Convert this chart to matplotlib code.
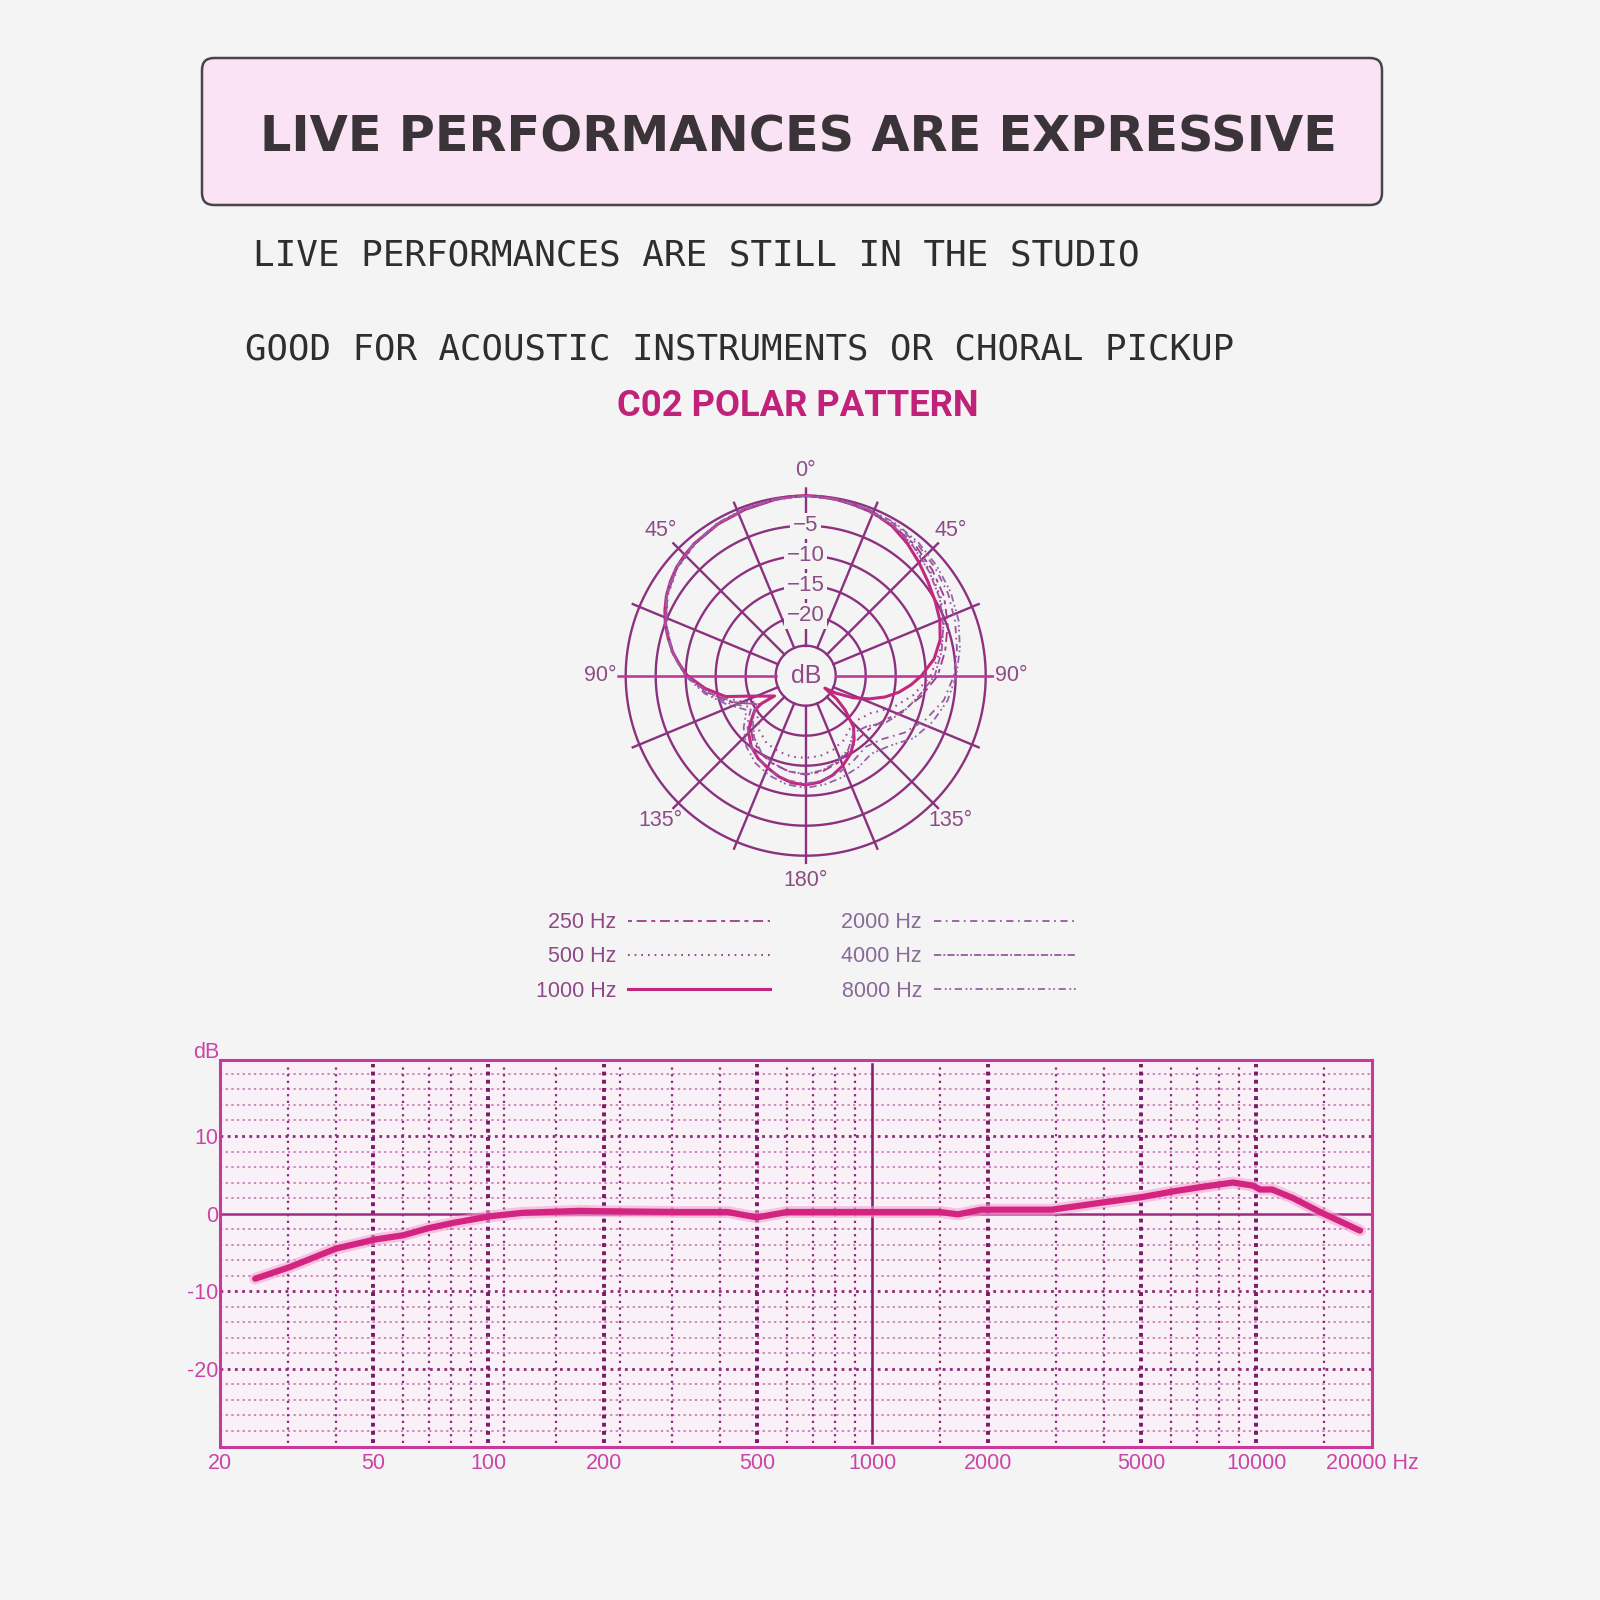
import numpy as np
import matplotlib
matplotlib.use("Agg")
import matplotlib.pyplot as plt
from matplotlib.patches import FancyBboxPatch
from matplotlib.ticker import NullLocator

# ---------------- texts ----------------
TITLE = "LIVE PERFORMANCES ARE EXPRESSIVE"
SUBTITLE_1 = "LIVE PERFORMANCES ARE STILL IN THE STUDIO"
SUBTITLE_2 = "GOOD FOR ACOUSTIC INSTRUMENTS OR CHORAL PICKUP"
POLAR_TITLE = "C02 POLAR PATTERN"

# ---------------- polar data (angle clockwise from 0° front, level dB) ----------------
ang_1000 = [0, 5, 10, 15, 22.5, 30, 37.5, 45, 52.5, 60, 67.5, 75, 82.5, 90, 95, 100, 105, 110,
            115, 120, 123, 127, 131, 137, 143, 150, 157.5, 165, 172.5, 180,
            187.5, 195, 202.5, 210, 217.5, 224.8, 229.4, 236, 237.8, 237, 243, 247, 250.5,
            255.4, 262.8, 270, 275, 280, 285, 290, 295, 300, 305, 310, 315, 320, 330, 340,
            350, 355, 360]
db_1000 = [0, -0.05, -0.2, -0.35, -0.6, -1.2, -2.2, -3.3, -4.3, -5.1, -5.8, -6.8, -8.4, -10.7,
           -12.4, -14.2, -16.3, -18.7, -21.3, -24.2, -26.2, -23.5, -21.3, -18.3, -16.6, -15.0,
           -13.8, -12.8, -12.1, -11.8,
           -12.0, -12.6, -13.4, -14.1, -15.1, -16.5, -17.8, -19.8, -21.3, -23.8, -22.5, -21.3,
           -19.8, -16.2, -13.1, -10.3, -8.9, -7.5, -6.3, -5.1, -4.1, -3.2, -2.5, -1.9, -1.5,
           -1.2, -0.8, -0.5, -0.2, -0.05, 0]

ang_std = [0, 10, 20, 30, 40, 50, 60, 70, 80, 90, 100, 110, 120, 130, 140, 150, 160, 170, 180,
           190, 200, 210, 220, 230, 240, 250, 260, 270, 280, 290, 300, 310, 320, 330, 340, 350, 360]
db_250 = [0, -0.2, -0.5, -1.0, -1.6, -2.5, -3.4, -4.8, -6.4, -8.0, -10.4, -12.8, -15.0, -16.2,
          -16.3, -15.5, -14.5, -13.8, -13.5, -13.8, -14.3, -15.0, -16.2, -18.0, -20.5, -17.0,
          -13.5, -10.0, -7.4, -5.2, -3.3, -2.0, -1.3, -0.8, -0.5, -0.2, 0]
db_500 = [0, -0.2, -0.6, -1.1, -1.9, -2.9, -4.0, -5.5, -7.3, -9.2, -11.7, -14.5, -17.5, -18.6,
          -18.5, -17.5, -16.8, -16.4, -16.3, -16.3, -16.6, -17.0, -18.0, -19.5, -21.0, -17.8,
          -14.0, -10.2, -7.5, -5.3, -3.4, -2.1, -1.3, -0.8, -0.5, -0.2, 0]
db_2000 = [0, -0.1, -0.4, -0.7, -1.2, -1.9, -2.6, -3.5, -4.4, -5.3, -6.6, -8.7, -11.0, -13.5,
           -14.5, -13.8, -13.0, -12.3, -12.0, -12.3, -13.1, -14.0, -15.4, -17.3, -19.5, -16.5,
           -13.2, -10.0, -7.4, -5.2, -3.2, -1.9, -1.2, -0.7, -0.4, -0.1, 0]
db_4000 = [0, -0.2, -0.6, -1.0, -2.0, -3.1, -4.2, -5.6, -7.0, -8.5, -10.8, -12.6, -14.5, -16.8,
           -17.6, -15.8, -14.7, -14.0, -13.6, -13.8, -14.4, -15.2, -16.6, -18.5, -20.5, -17.2,
           -13.6, -10.1, -7.5, -5.3, -3.3, -2.0, -1.3, -0.8, -0.5, -0.2, 0]
db_8000 = [0, -0.1, -0.3, -0.5, -0.9, -1.5, -2.1, -2.9, -3.9, -4.9, -6.0, -7.5, -9.2, -11.8,
           -13.0, -12.4, -12.0, -11.6, -11.3, -11.6, -12.3, -13.2, -14.6, -16.5, -18.6, -16.0,
           -12.9, -9.9, -7.3, -5.1, -3.1, -1.8, -1.1, -0.6, -0.3, -0.1, 0]

legend_labels = ["250 Hz", "500 Hz", "1000 Hz", "2000 Hz", "4000 Hz", "8000 Hz"]
ring_db = [-25, -20, -15, -10, -5, 0]
ring_label_db = [-5, -10, -15, -20]
ring_label_txt = ["\u22125", "\u221210", "\u221215", "\u221220"]
angle_label_deg = [0, 45, 90, 135, 180, 225, 270, 315]
angle_label_txt = ["0\u00b0", "45\u00b0", "90\u00b0", "135\u00b0", "180\u00b0", "135\u00b0", "90\u00b0", "45\u00b0"]

# ---------------- frequency response ----------------
freq_hz = [24.7, 30.4, 40.2, 50.6, 60, 69.6, 81, 101, 123, 173, 200, 315, 420, 500, 600,
           1000, 1500, 1670, 1920, 2930, 3940, 5000, 6150, 7130, 8690, 9800, 10220, 10990,
           12450, 14650, 18610]
resp_db = [-8.4, -6.9, -4.5, -3.35, -2.8, -1.9, -1.2, -0.35, 0.1, 0.35, 0.3, 0.2, 0.2, -0.5, 0.2,
           0.2, 0.2, -0.1, 0.5, 0.5, 1.4, 2.1, 2.9, 3.4, 4.0, 3.6, 3.1, 3.1,
           2.0, 0.2, -2.2]
xtick_vals = [20, 50, 100, 200, 500, 1000, 2000, 5000, 10000, 20000]
xtick_txt = ["20", "50", "100", "200", "500", "1000", "2000", "5000", "10000", "20000 Hz"]
ytick_vals = [-20, -10, 0, 10]
ytick_txt = ["-20", "-10", "0", "10"]
grid_thin_hz = [30, 40, 60, 70, 80, 90, 110, 150, 220, 300, 400, 600, 700, 800, 900,
                1500, 3000, 4000, 6000, 7000, 8000, 9000, 15000]
grid_bold_hz = [50, 100, 200, 500, 2000, 5000, 10000]
grid_solid_hz = [1000]
hgrid_bold_db = [-20, -10, 10]
hgrid_minor_db = [-28, -26, -24, -22, -18, -16, -14, -12, -8, -6, -4, -2, 2, 4, 6, 8, 12, 14, 16, 18]

# ---------------- style ----------------
BG = "#F4F4F4"
POLAR_GRID = "#8C3080"
POLAR_HORIZ = "#BE3A9E"
POLAR_LABEL = "#8E4C86"
SANS = ["Liberation Sans", "DejaVu Sans"]

fig = plt.figure(figsize=(16, 16), dpi=100, facecolor=BG)
W = H = 1600.0

bg = fig.add_axes([0, 0, 1, 1], zorder=0)
bg.set_xlim(0, W)
bg.set_ylim(H, 0)
bg.axis("off")

renderer = fig.canvas.get_renderer()


def fit_text(ax, x, y, s, width_px, **kw):
    t = ax.text(x, y, s, fontsize=20, **kw)
    w = t.get_window_extent(renderer=renderer).width
    t.set_fontsize(20 * width_px / w)
    return t


# title box
box = FancyBboxPatch((202, 58), 1180, 147, boxstyle="round,pad=0,rounding_size=12",
                     facecolor="#F9E3F4", edgecolor="#4A4347", linewidth=1.8)
bg.add_patch(box)
fit_text(bg, 798, 152, TITLE, 1076, ha="center", va="baseline",
         family="DejaVu Sans", weight="bold", color="#3A3438")
fit_text(bg, 253, 265, SUBTITLE_1, 890, ha="left", va="baseline",
         family="DejaVu Sans Mono", color="#2E2E2E")
fit_text(bg, 245, 360, SUBTITLE_2, 992, ha="left", va="baseline",
         family="DejaVu Sans Mono", color="#2E2E2E")
fit_text(bg, 798, 416, POLAR_TITLE, 361, ha="center", va="baseline",
         family=["Liberation Sans Narrow", "Roboto", "DejaVu Sans"], weight="bold", color="#C0227A")

# ---------------- polar chart ----------------
cx, cy = 805.7, 675.7
RMAX = 31.4
rpx = RMAX * 6.0
pax = fig.add_axes([(cx - rpx) / W, 1 - (cy + rpx) / H, 2 * rpx / W, 2 * rpx / H],
                   projection="polar", zorder=2)
pax.set_theta_zero_location("N")
pax.set_theta_direction(-1)
pax.set_ylim(0, RMAX)
pax.grid(False)
pax.set_xticks([])
pax.set_yticks([])
pax.spines["polar"].set_visible(False)
pax.patch.set_alpha(0)

th = np.linspace(0, 2 * np.pi, 721)
for d in ring_db:
    pax.plot(th, np.full_like(th, d + 30), color=POLAR_GRID, lw=1.7, zorder=2)
for a in np.arange(0, 360, 22.5):
    if a in (90, 270):
        continue
    pax.plot([np.deg2rad(a)] * 2, [5, 31.3], color=POLAR_GRID, lw=1.7, zorder=2)
for a in (90, 270):
    pax.plot([np.deg2rad(a)] * 2, [5, 31.4], color=POLAR_HORIZ, lw=1.9, zorder=2)

for d, s in zip(ring_label_db, ring_label_txt):
    pax.text(0, d + 30, s, ha="center", va="center", fontsize=16, color=POLAR_LABEL,
             family=SANS, zorder=6,
             bbox=dict(boxstyle="square,pad=0.12", facecolor=BG, edgecolor="none"))
pax.text(0, 0, "dB", ha="center", va="center", fontsize=18, color=POLAR_LABEL, family=SANS, zorder=6)
for a, s in zip(angle_label_deg, angle_label_txt):
    pax.text(np.deg2rad(a), 34.2, s, ha="center", va="center", fontsize=15.5,
             color=POLAR_LABEL, family=SANS)

series = [
    (ang_std, db_250, (0, (2.2, 2.6, 5.5, 2.6)), "#A2388A", 1.3),
    (ang_std, db_500, (0, (0.8, 2.4)), "#A0469A", 1.5),
    (ang_1000, db_1000, "-", "#C2287F", 2.2),
    (ang_std, db_2000, (0, (4, 2.5, 1, 2.5)), "#9A58A2", 1.3),
    (ang_std, db_4000, (0, (4, 1.2, 1, 1.2)), "#9A58A2", 1.3),
    (ang_std, db_8000, (0, (4, 2, 1, 1.5, 1, 2)), "#9562AA", 1.3),
]
handles = []
for (ang, dbv, ls, col, lw), lab in zip(series, legend_labels):
    ln, = pax.plot(np.deg2rad(ang), np.array(dbv) + 30, linestyle=ls, color=col, lw=lw,
                   label=lab, zorder=4, solid_joinstyle="round")
    handles.append(ln)

leg = fig.legend(handles=handles, labels=legend_labels, ncol=2, markerfirst=False,
                 frameon=False, loc="center", bbox_to_anchor=(806 / W, 1 - 957 / H),
                 prop={"family": SANS, "size": 15.5}, handlelength=6.6, handletextpad=0.55,
                 columnspacing=3.3, labelspacing=0.62,
                 labelcolor=["#8E4A86", "#8E4A86", "#8E4A86", "#8A6A98", "#8A6A98", "#8A6A98"])

# ---------------- frequency response chart ----------------
fax = fig.add_axes([220 / W, 1 - 1447 / H, 1152 / W, 387 / H], zorder=2)
fax.set_facecolor("#FAF1F8")
fax.set_xscale("log")
fax.set_xlim(20, 20000)
fax.set_ylim(-30.1, 19.8)

for d in hgrid_minor_db:
    fax.axhline(d, color="#C46AAE", lw=1.1, ls=(0, (1.5, 2.2)), zorder=1)
for d in hgrid_bold_db:
    fax.axhline(d, color="#8E2A78", lw=2.0, ls=(0, (1, 1.6)), zorder=1)
for f in grid_thin_hz:
    fax.axvline(f, ymin=0.01, ymax=0.99, color="#8E2A78", lw=1.6, ls=(0, (1, 2.0)), zorder=1)
for f in grid_bold_hz:
    fax.axvline(f, ymin=0.01, ymax=0.99, color="#7A1A66", lw=2.8, ls=(0, (1, 1.1)), zorder=1)
for f in grid_solid_hz:
    fax.axvline(f, ymin=0.01, ymax=0.99, color="#8A2070", lw=1.9, zorder=1)
fax.axhline(0, color="#A02A80", lw=1.8, zorder=2)

fax.plot(freq_hz, resp_db, color="#F2A6D2", lw=8.5, alpha=0.6, solid_capstyle="round",
         solid_joinstyle="round", zorder=3)
fax.plot(freq_hz, resp_db, color="#D42482", lw=4.5, solid_capstyle="round",
         solid_joinstyle="round", zorder=4)

for sp in fax.spines.values():
    sp.set_color("#C63A9C")
    sp.set_linewidth(2.2)
fax.xaxis.set_minor_locator(NullLocator())
fax.set_xticks(xtick_vals)
fax.set_xticklabels(xtick_txt)
fax.set_yticks(ytick_vals)
fax.set_yticklabels(ytick_txt)
fax.tick_params(axis="both", length=0, labelsize=15.5, labelcolor="#CC44A8")
fax.tick_params(axis="x", pad=4)
fax.tick_params(axis="y", pad=1)
for lab in fax.get_xticklabels() + fax.get_yticklabels():
    lab.set_family(SANS)

bg.text(206, 1053, "dB", ha="center", va="center", fontsize=15.5, color="#CC44A8", family=SANS)

fig.savefig("out.png", dpi=100, facecolor=BG)
